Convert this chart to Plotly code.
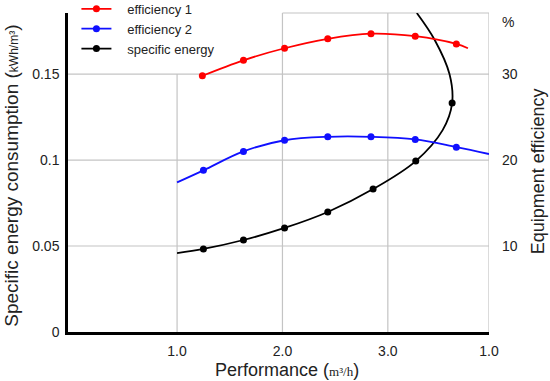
import plotly.graph_objects as go

# ---- data ----
x_ticks = [1.0, 2.0, 3.0, 3.96]
x_tick_labels = ["1.0", "2.0", "3.0", "1.0"]
y_ticks = [0, 0.05, 0.1, 0.15]
y_tick_labels = ["0", "0.05", "0.1", "0.15"]
y2_ticks = [10, 20, 30, 36]
y2_tick_labels = ["10", "20", "30", "%"]

eff1_x = [1.24, 1.63, 2.02, 2.43, 2.84, 3.26, 3.65, 3.76]
eff1_y = [29.8, 31.6, 33.0, 34.1, 34.7, 34.4, 33.5, 33.0]
eff1_marked = [1, 1, 1, 1, 1, 1, 1, 0]

eff2_x = [1.0, 1.25, 1.63, 2.02, 2.43, 2.84, 3.26, 3.65, 3.96]
eff2_y = [17.4, 18.8, 21.0, 22.3, 22.7, 22.7, 22.4, 21.5, 20.7]
eff2_marked = [0, 1, 1, 1, 1, 1, 1, 1, 0]

se_x = [1.0, 1.25, 1.63, 2.02, 2.43, 2.86, 3.265, 3.52, 3.61, 3.585, 3.445, 3.275]
se_y = [0.0459, 0.0483, 0.0535, 0.0605, 0.0698, 0.0831, 0.0994, 0.1174, 0.1331, 0.150, 0.1698, 0.1855]
se_marked = [0, 1, 1, 1, 1, 1, 1, 0, 1, 0, 0, 0]

X_RANGE = [-0.035, 3.96]
Y_RANGE = [0, 0.1855]
Y2_RANGE = [0, 37.1]

MS = 7
FONT = "Liberation Sans, Arial, sans-serif"
GRID = "#c4c4c4"
PAD = "\u00a0\u00a0\u00a0"

fig = go.Figure()

def add(name, xs, ys, marked, color, axis):
    fig.add_trace(go.Scatter(
        x=xs, y=ys, name=PAD + name, yaxis=axis,
        mode="lines+markers",
        line=dict(color=color, width=1.8, shape="spline", smoothing=1),
        marker=dict(color=color, size=MS),
        selectedpoints=[i for i, m in enumerate(marked) if m],
        selected=dict(marker=dict(opacity=1)),
        unselected=dict(marker=dict(opacity=0)),
    ))

add("efficiency 1", eff1_x, eff1_y, eff1_marked, "#ff0000", "y2")
add("efficiency 2", eff2_x, eff2_y, eff2_marked, "#1010ff", "y2")
add("specific energy", se_x, se_y, se_marked, "#000000", "y")

shapes = []
for v in y_ticks[1:]:
    shapes.append(dict(type="line", xref="paper", yref="y", x0=0, x1=1, y0=v, y1=v,
                       line=dict(color=GRID, width=1.2), layer="below"))
# vertical grid at 1.0 stops at 0.15
shapes.append(dict(type="line", xref="x", yref="y", x0=x_ticks[0], x1=x_ticks[0],
                   y0=0, y1=y_ticks[-1], line=dict(color=GRID, width=1.2), layer="below"))
for v in x_ticks[1:]:
    shapes.append(dict(type="line", xref="x", yref="paper", x0=v, x1=v, y0=0, y1=1,
                       line=dict(color=GRID, width=1.2), layer="below"))
shapes.append(dict(type="line", xref="x", yref="paper", x0=x_ticks[1], x1=x_ticks[-1],
                   y0=1, y1=1, line=dict(color=GRID, width=1.2), layer="below"))

fig.update_layout(
    width=550, height=381,
    margin=dict(l=68, r=61, t=13, b=49, autoexpand=False),
    plot_bgcolor="white", paper_bgcolor="white",
    font=dict(family=FONT, color="#222222"),
    showlegend=True,
    legend=dict(x=0.02, y=1.06, xanchor="left", yanchor="top",
                bgcolor="rgba(255,255,255,0)", font=dict(size=13, color="#222222"),
                tracegroupgap=0),
    xaxis=dict(range=X_RANGE, tickvals=x_ticks, ticktext=x_tick_labels, automargin=False,
               showgrid=False, zeroline=False, showline=True, linecolor="black",
               linewidth=3, ticks="", tickfont=dict(size=14), ticklabelstandoff=4),
    yaxis=dict(range=Y_RANGE, tickvals=y_ticks, ticktext=y_tick_labels, automargin=False,
               showgrid=False, zeroline=False, showline=True, linecolor="black",
               linewidth=2.5, ticks="", tickfont=dict(size=14), ticklabelstandoff=3),
    yaxis2=dict(range=Y2_RANGE, tickvals=y2_ticks, ticktext=y2_tick_labels, automargin=False,
                overlaying="y", side="right", showgrid=False, zeroline=False,
                showline=False, ticks="", tickfont=dict(size=14), ticklabelstandoff=12),
    shapes=shapes,
    annotations=[
        dict(text="Specific energy consumption (<span style='font-size:12px'>kWh/m³</span>)",
             xref="paper", yref="paper", x=-0.133, y=0.49, textangle=-90,
             showarrow=False, xanchor="center", yanchor="middle",
             font=dict(size=19, color="#222222")),
        dict(text="Equipment efficiency",
             xref="paper", yref="paper", x=1.115, y=0.505, textangle=-90,
             showarrow=False, xanchor="center", yanchor="middle",
             font=dict(size=18, color="#222222")),
        dict(text="Performance (<span style='font-family:Liberation Serif;font-size:13px'>m³/h</span>)",
             xref="paper", yref="paper", x=0.52, y=-0.12,
             showarrow=False, xanchor="center", yanchor="middle",
             font=dict(size=18, color="#222222")),
    ],
)

fig.write_html("out.html", config={"displayModeBar": False},
               post_script="document.body.style.margin='0';")
